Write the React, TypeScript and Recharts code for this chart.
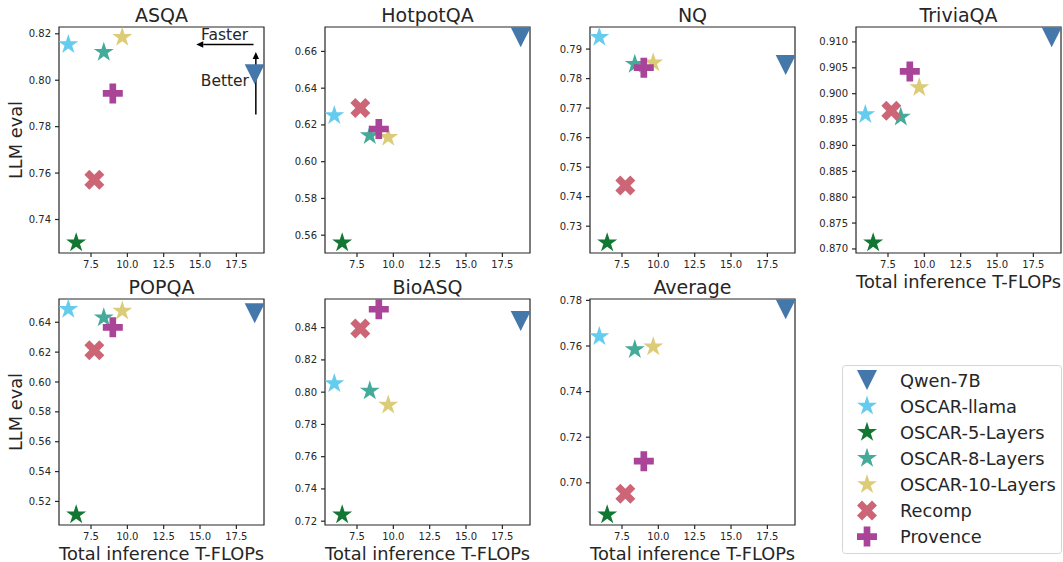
import React from "react";
import {
  Legend,
  ReferenceArea,
  ReferenceDot,
  ReferenceLine,
  Scatter,
  ScatterChart,
  XAxis,
  YAxis,
} from "recharts";

// methods, in legend / draw order
const methods = [
  "Qwen-7B",
  "OSCAR-llama",
  "OSCAR-5-Layers",
  "OSCAR-8-Layers",
  "OSCAR-10-Layers",
  "Recomp",
  "Provence",
];
const flops = [18.76, 5.94, 6.48, 8.38, 9.65, 7.73, 9.0];

// LLM eval per dataset, same order as methods
const asqa = [0.8026, 0.8154, 0.73, 0.8121, 0.8185, 0.7571, 0.7943];
const hotpotqa = [0.6677, 0.6251, 0.5559, 0.6142, 0.6133, 0.6292, 0.6178];
const nq = [0.7846, 0.794, 0.7244, 0.7849, 0.7854, 0.7438, 0.7837];
const triviaqa = [0.9109, 0.896, 0.8712, 0.8955, 0.9012, 0.8967, 0.9043];
const popqa = [0.646, 0.6487, 0.5111, 0.6431, 0.6476, 0.6213, 0.6366];
const bioasq = [0.8441, 0.8053, 0.724, 0.8008, 0.7921, 0.8394, 0.8514];
const average = [0.7761, 0.7642, 0.686, 0.7585, 0.7597, 0.6952, 0.7095];

// tick labels
const xTicks = [7.5, 10, 12.5, 15, 17.5];
const asqaTicks = [0.74, 0.76, 0.78, 0.8, 0.82];
const hotpotTicks = [0.56, 0.58, 0.6, 0.62, 0.64, 0.66];
const nqTicks = [0.73, 0.74, 0.75, 0.76, 0.77, 0.78, 0.79];
const triviaTicks = [0.87, 0.875, 0.88, 0.885, 0.89, 0.895, 0.9, 0.905, 0.91];
const popqaTicks = [0.52, 0.54, 0.56, 0.58, 0.6, 0.62, 0.64];
const bioasqTicks = [0.72, 0.74, 0.76, 0.78, 0.8, 0.82, 0.84];
const averageTicks = [0.7, 0.72, 0.74, 0.76, 0.78];

const panels = [
  { title: "ASQA", scores: asqa, ticks: asqaTicks, digits: 2 },
  { title: "HotpotQA", scores: hotpotqa, ticks: hotpotTicks, digits: 2 },
  { title: "NQ", scores: nq, ticks: nqTicks, digits: 2 },
  { title: "TriviaQA", scores: triviaqa, ticks: triviaTicks, digits: 3 },
  { title: "POPQA", scores: popqa, ticks: popqaTicks, digits: 2 },
  { title: "BioASQ", scores: bioasq, ticks: bioasqTicks, digits: 2 },
  { title: "Average", scores: average, ticks: averageTicks, digits: 2 },
];

// ASQA annotations
const fasterArrow = [
  { x: 18.68, y: 0.8154 },
  { x: 14.74, y: 0.8154 },
];
const betterArrow = [
  { x: 18.84, y: 0.7852 },
  { x: 18.84, y: 0.8122 },
];
const fasterText = { x: 16.69, y: 0.8175 };
const betterText = { x: 16.71, y: 0.7974 };

const COLORS = ["#4477AA", "#66CCEE", "#117733", "#44AA99", "#DDCC77", "#CC6677", "#AA4499"];
const SHAPES = ["tri", "star", "star", "star", "star", "x", "plus"];
const INK = "#262626";
const LABEL_SIZE = 17.8;

const PLOT_W = 205;
const PLOT_H = 226;
const AXIS_W = 60;
const TOP = 30;
const XAXIS_H = 35;
const RIGHT = 8;
const BOTTOM = 8;
const COL_LEFT = [59, 324.5, 590, 856];
const ROW_TOP = [27, 299];

const pad = (vals: number[]) => {
  const lo = Math.min(...vals);
  const hi = Math.max(...vals);
  const m = (hi - lo) * 0.05;
  return [lo - m, hi + m];
};
const xDomain = pad(flops);

const Marker = ({ kind, cx, cy, color }: { kind: string; cx: number; cy: number; color: string }) => {
  if (kind === "tri") {
    const h = 10;
    return <polygon fill={color} points={`${cx - h},${cy - h} ${cx + h},${cy - h} ${cx},${cy + h}`} />;
  }
  if (kind === "star") {
    const R = 10.5;
    const pts: string[] = [];
    for (let i = 0; i < 10; i++) {
      const a = ((-90 + i * 36) * Math.PI) / 180;
      const r = i % 2 === 0 ? R : R * 0.382;
      pts.push(`${cx + r * Math.cos(a)},${cy + r * Math.sin(a)}`);
    }
    return <polygon fill={color} points={pts.join(" ")} />;
  }
  const path =
    kind === "x"
      ? [[-1, -2], [0, -1], [1, -2], [2, -1], [1, 0], [2, 1], [1, 2], [0, 1], [-1, 2], [-2, 1], [-1, 0], [-2, -1]].map(
          ([a, b]) => [a * 5, b * 5]
        )
      : [[-1, -3], [1, -3], [1, -1], [3, -1], [3, 1], [1, 1], [1, 3], [-1, 3], [-1, 1], [-3, 1], [-3, -1], [-1, -1]].map(
          ([a, b]) => [(a * 10) / 3, (b * 10) / 3]
        );
  return <polygon fill={color} points={path.map(([a, b]) => `${cx + a},${cy + b}`).join(" ")} />;
};

const Arrow = (p: any) => {
  const { x1, y1, x2, y2 } = p;
  const dx = x2 - x1;
  const dy = y2 - y1;
  const len = Math.hypot(dx, dy) || 1;
  const ux = dx / len;
  const uy = dy / len;
  const hl = 7;
  const hw = 3.2;
  const bx = x2 - ux * hl;
  const by = y2 - uy * hl;
  return (
    <g>
      <line x1={x1} y1={y1} x2={bx} y2={by} stroke="#000" strokeWidth={1.5} />
      <polygon
        points={`${x2},${y2} ${bx - uy * hw},${by + ux * hw} ${bx + uy * hw},${by - ux * hw}`}
        fill="#000"
      />
    </g>
  );
};

const noteText = (label: string) => (p: any) =>
  (
    <text x={p.cx} y={p.cy} textAnchor="middle" fontSize={15.5} fill={INK}>
      {label}
    </text>
  );

const LegendBox = () => (
  <svg width={221} height={189} style={{ display: "block" }}>
    <rect x={0.5} y={0.5} width={219} height={188} rx={3} fill="#fff" stroke="#d5d5d5" />
    {methods.map((m, i) => (
      <g key={m}>
        <Marker kind={SHAPES[i]} cx={25} cy={15 + i * 26.1} color={COLORS[i]} />
        <text x={58} y={15 + i * 26.1} dominantBaseline="central" fontSize={LABEL_SIZE} fill={INK}>
          {m}
        </text>
      </g>
    ))}
  </svg>
);

const Panel = ({ index }: { index: number }) => {
  const panel = panels[index];
  const col = index % 4;
  const row = Math.floor(index / 4);
  const left = COL_LEFT[col];
  const top = ROW_TOP[row];
  const yDomain = pad(panel.scores);
  const showX = index >= 3;
  const showY = col === 0;

  const extras: React.ReactNode[] = [];
  if (index === 0) {
    extras.push(
      <ReferenceLine key="fa" segment={fasterArrow} shape={Arrow} />,
      <ReferenceLine key="ba" segment={betterArrow} shape={Arrow} />,
      <ReferenceDot key="ft" x={fasterText.x} y={fasterText.y} shape={noteText("Faster")} />,
      <ReferenceDot key="bt" x={betterText.x} y={betterText.y} shape={noteText("Better")} />
    );
  }
  if (index === 6) {
    extras.push(
      <Legend
        key="legend"
        layout="vertical"
        align="center"
        verticalAlign="middle"
        content={() => <LegendBox />}
        wrapperStyle={{ left: 312, top: 96, width: 221, height: 189 }}
      />
    );
  }

  return (
    <div style={{ position: "absolute", left: left - AXIS_W, top: top - TOP }}>
      <ScatterChart
        width={AXIS_W + PLOT_W + RIGHT}
        height={TOP + PLOT_H + XAXIS_H + BOTTOM}
        margin={{ top: TOP, right: RIGHT, bottom: BOTTOM, left: 0 }}
      >
        <XAxis
          type="number"
          dataKey="x"
          domain={xDomain}
          allowDataOverflow
          ticks={xTicks}
          tickFormatter={(v: number) => v.toFixed(1)}
          height={XAXIS_H}
          axisLine={false}
          tickSize={4}
          tickMargin={4}
          tick={{ fontSize: 10, fill: INK }}
          tickLine={{ stroke: INK, strokeWidth: 1.2 }}
          label={
            showX
              ? { value: "Total inference T-FLOPs", position: "insideBottom", offset: 0, fontSize: LABEL_SIZE, fill: INK }
              : undefined
          }
        />
        <YAxis
          type="number"
          dataKey="y"
          domain={yDomain}
          allowDataOverflow
          ticks={panel.ticks}
          tickFormatter={(v: number) => v.toFixed(panel.digits)}
          width={AXIS_W}
          axisLine={false}
          tickSize={4}
          tickMargin={4}
          tick={{ fontSize: 10, fill: INK }}
          tickLine={{ stroke: INK, strokeWidth: 1.2 }}
          label={
            showY
              ? {
                  value: "LLM eval",
                  angle: -90,
                  position: "insideLeft",
                  offset: 17,
                  fontSize: LABEL_SIZE,
                  fill: INK,
                  style: { textAnchor: "middle" },
                }
              : undefined
          }
        />
        <ReferenceArea
          x1={xDomain[0]}
          x2={xDomain[1]}
          y1={yDomain[0]}
          y2={yDomain[1]}
          ifOverflow="visible"
          fill="none"
          fillOpacity={0}
          stroke={INK}
          strokeWidth={1.2}
          label={{ value: panel.title, position: "top", offset: 5, fontSize: 19, fill: INK }}
        />
        {methods.map((m, i) => (
          <Scatter
            key={m}
            name={m}
            data={[{ x: flops[i], y: panel.scores[i] }]}
            isAnimationActive={false}
            shape={(p: any) => <Marker kind={SHAPES[i]} cx={p.cx} cy={p.cy} color={COLORS[i]} />}
          />
        ))}
        {extras}
      </ScatterChart>
    </div>
  );
};

export default function App() {
  return (
    <div
      style={{
        position: "absolute",
        left: 0,
        top: 0,
        width: 1063,
        height: 562,
        background: "#fff",
        fontFamily: "'DejaVu Sans', sans-serif",
      }}
    >
      {panels.map((p, i) => (
        <Panel key={p.title} index={i} />
      ))}
    </div>
  );
}
